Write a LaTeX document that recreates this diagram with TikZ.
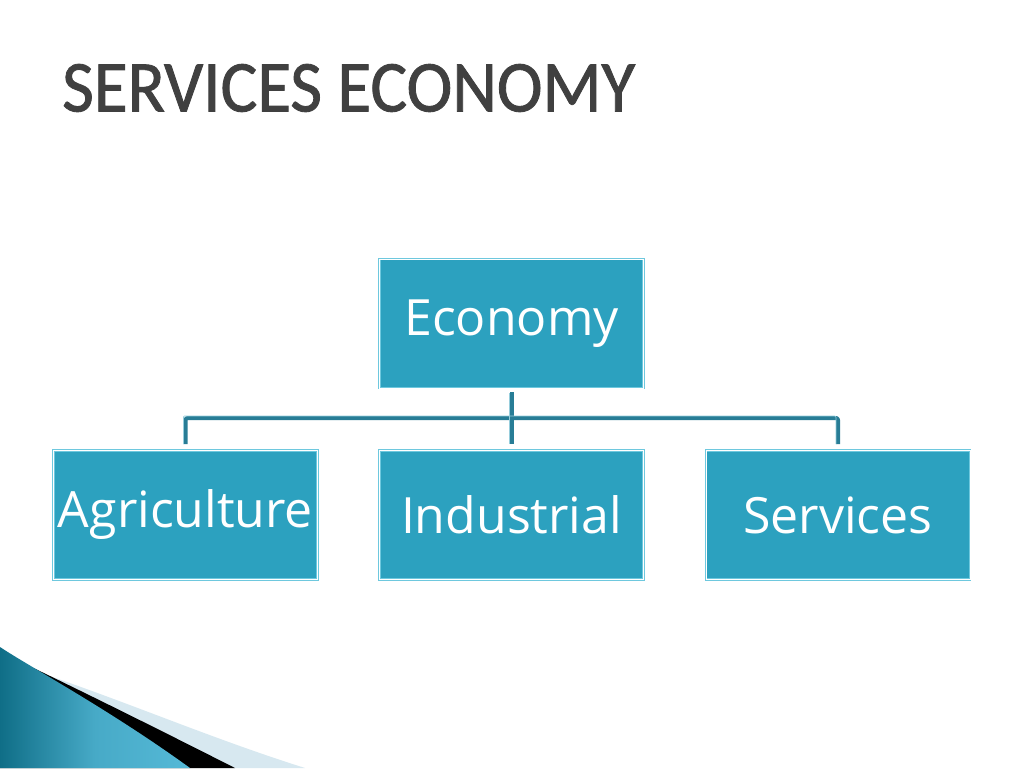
\documentclass[tikz,border=0pt]{standalone}
\usepackage{fontspec}
\setmainfont{Open Sans}
\newfontfamily\titlefont[FakeBold=1.2]{Carlito}
\definecolor{boxfill}{RGB}{44,161,191}
\definecolor{boxedge}{RGB}{110,200,222}
\definecolor{conn}{RGB}{40,125,150}
\definecolor{connlight}{RGB}{150,205,220}
\definecolor{titlegray}{RGB}{64,64,64}
\definecolor{teal1}{RGB}{15,110,135}
\definecolor{teal2}{RGB}{85,185,215}
\definecolor{paleblue}{RGB}{215,232,240}
\begin{document}
\begin{tikzpicture}[x=1pt,y=-1pt,
  orgbox/.style={draw=boxedge, line width=0.9pt, double=white, double distance=0.8pt, fill=boxfill,
    minimum width=264pt, minimum height=129pt,
    text=white, font=\fontsize{50}{50}\selectfont, inner sep=0pt},
  conline/.style={draw=conn, line width=4pt, rounded corners=2pt, line join=round},
  connhi/.style={draw=connlight, line width=0.7pt, rounded corners=1pt}]
\useasboundingbox (0,0) rectangle (1024,768);
\fill[white] (0,0) rectangle (1024,768);
% title
\node[anchor=west, text=titlegray, font=\titlefont\fontsize{73}{73}\selectfont, inner sep=0pt, xscale=0.945] (title) at (62,88) {SERVICES ECONOMY};
% coordinates
\coordinate (ecoB) at (511.5,392);
\coordinate (indT) at (511.5,444);
\coordinate (agrT) at (185.5,444);
\coordinate (serT) at (838,444);
\coordinate (hl) at (185.5,418);
\coordinate (hm) at (511.5,418);
\coordinate (hr) at (838,418);
% connectors
\draw[conline] (ecoB) -- (indT);
\draw[conline] (agrT) -- (hl) -- (hr) -- (serT);
\draw[connhi] (183.4,444) -- (183.4,416) -- (835.9,416) -- (835.9,444);
\draw[connhi] (509.4,393) -- (509.4,444);
% boxes
\node[orgbox] (eco) at (511.5,323.5) {Economy};
\node[orgbox] (agr) at (185.5,515) {Agriculture};
\node[orgbox] (ind) at (511.5,515) {Industrial};
\node[orgbox] (ser) at (838,515) {Services};
% bottom decoration
\fill[paleblue] (0,660) .. controls (100,690) and (200,735) .. (305,768) -- (0,768) -- cycle;
\fill[black] (0,652) .. controls (80,690) and (160,730) .. (235,768) -- (0,768) -- cycle;
\shade[left color=teal1, right color=teal2, middle color=teal2!80!teal1] (0,647) .. controls (30,667) and (110,710) .. (190,768) -- (0,768) -- cycle;
\end{tikzpicture}
\end{document}
